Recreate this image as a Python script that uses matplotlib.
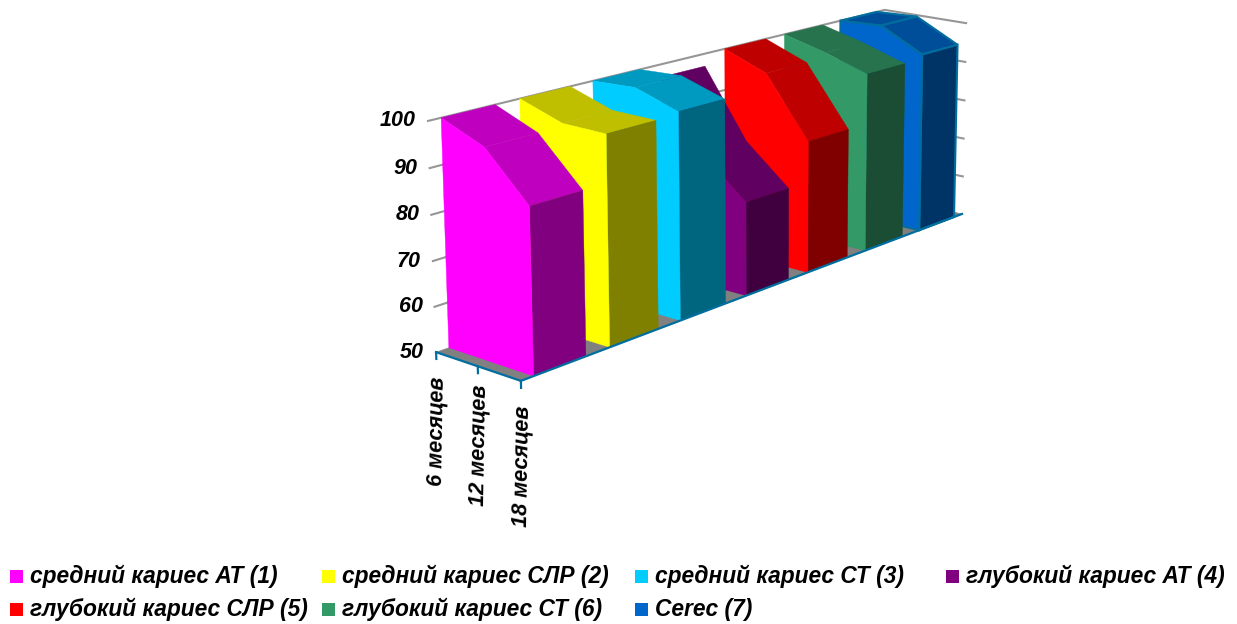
import numpy as np
import matplotlib
matplotlib.use("Agg")
import matplotlib.pyplot as plt
from matplotlib.patches import Polygon, Rectangle

plt.rcParams['font.family'] = ['Liberation Sans', 'DejaVu Sans']

periods = ["6 месяцев", "12 месяцев", "18 месяцев"]
series_names = ["средний кариес АТ (1)", "средний кариес СЛР (2)", "средний кариес СТ (3)",
                "глубокий кариес АТ (4)", "глубокий кариес СЛР (5)", "глубокий кариес СТ (6)", "Cerec (7)"]
v_ticks = [50, 60, 70, 80, 90, 100]

at_mid = [100, 96, 86]
slr_mid = [100, 96.7, 96.6]
st_mid = [100, 100.5, 97.2]
at_deep = [97, 81, 72]
slr_deep = [100, 96, 81.7]
st_deep = [100, 97.3, 93.9]
cerec = [100, 100.5, 95]
values = [at_mid, slr_mid, st_mid, at_deep, slr_deep, st_deep, cerec]

colors = ["#FF00FF", "#FFFF00", "#00CCFF", "#800080", "#FF0000", "#339966", "#0066CC"]

# frame corners of the picture: (month index, series position, value) -> pixel
anchors = [((0, 0, 50), (436, 352)), ((0, 0, 100), (428, 121)), ((2, 0, 50), (521, 381)),
           ((2, 7, 50), (962, 214)), ((2, 7, 100), (966, 23)), ((0, 7, 100), (885, 10))]


def fit_camera(pairs):
    rows = []
    for (c, s, v), (x, y) in pairs:
        rows.append([c, s, v, 1, 0, 0, 0, 0, -x * c, -x * s, -x * v, -x])
        rows.append([0, 0, 0, 0, c, s, v, 1, -y * c, -y * s, -y * v, -y])
    return np.linalg.svd(np.array(rows, dtype=float))[2][-1].reshape(3, 4)


P = fit_camera(anchors)


def project(c, s, v):
    h = P @ np.array([c, s, v, 1.0])
    return h[0] / h[2], h[1] / h[2]


def shade(col, k):
    rgb = np.array(matplotlib.colors.to_rgb(col))
    return tuple(rgb * k)


fig = plt.figure(figsize=(12.37, 6.24), dpi=100)
ax = fig.add_axes([0, 0, 1, 1])
ax.set_xlim(0, 1237)
ax.set_ylim(624, 0)
ax.axis('off')

grid = "#969696"
axis_col = "#006E9E"


def face(corners, fc, ec=None, lw=0.3, z=2):
    ax.add_patch(Polygon([project(*p) for p in corners], closed=True, facecolor=fc,
                         edgecolor=ec if ec else fc, linewidth=lw, joinstyle='miter', zorder=z))


# floor
face([(0, 0, 50), (2, 0, 50), (2, 7, 50), (0, 7, 50)], "#808080", z=0.5)

# wall lines
for v in v_ticks[1:]:
    pts = [project(0, 0, v), project(0, 7, v), project(2, 7, v)]
    ax.plot(*zip(*pts), color=grid, lw=1.5, solid_joinstyle='miter', zorder=1)

# areas, from back to front
gap = 0.16
for i in range(6, -1, -1):
    s0, s1 = i + gap, i + 1 - gap
    vals = values[i]
    col = colors[i]
    ec = axis_col if i == 6 else None
    lw = 1.5 if i == 6 else 0.3
    for c in range(2):
        face([(c, s0, vals[c]), (c + 1, s0, vals[c + 1]), (c + 1, s1, vals[c + 1]), (c, s1, vals[c])],
             shade(col, 0.75), ec, lw)
    face([(2, s0, 50), (2, s1, 50), (2, s1, vals[2]), (2, s0, vals[2])], shade(col, 0.5), ec, lw)
    face([(0, s0, 50), (2, s0, 50), (2, s0, vals[2]), (1, s0, vals[1]), (0, s0, vals[0])], col, ec, lw)

# axes
for line in ([(0, 0, 50), (2, 0, 50)], [(2, 0, 50), (2, 7, 50)]):
    ax.plot(*zip(*[project(*p) for p in line]), color=axis_col, lw=1.6, zorder=3)
for c in range(3):
    ax.plot(*zip(project(c, 0, 50), project(c, 0, 48.5)), color=axis_col, lw=1.6, zorder=3)

font = dict(fontweight='bold', fontstyle='italic', color='black')
for v in v_ticks:
    x, y = project(0, 0, v)
    ax.text(x - 12, y, str(v), ha='right', va='center', fontsize=15.5, **font)
label_drop = [13, 7, 13]
for c, name in enumerate(periods):
    x, y = project(c, 0, 47.5)
    ax.text(x + 1, y + label_drop[c], name, rotation=89, ha='center', va='top', fontsize=15.6, **font)

# legend
col_x = [10, 322, 635, 946]
row_y = [576.5, 609]
for i, name in enumerate(series_names):
    x = col_x[i % 4]
    y = row_y[i // 4]
    ax.add_patch(Rectangle((x, y - 6.5), 13, 13, facecolor=colors[i], edgecolor='none'))
    ax.text(x + 20, y + 7, name, ha='left', va='baseline', fontsize=16.4, **font)

fig.savefig("out.png", dpi=100)
